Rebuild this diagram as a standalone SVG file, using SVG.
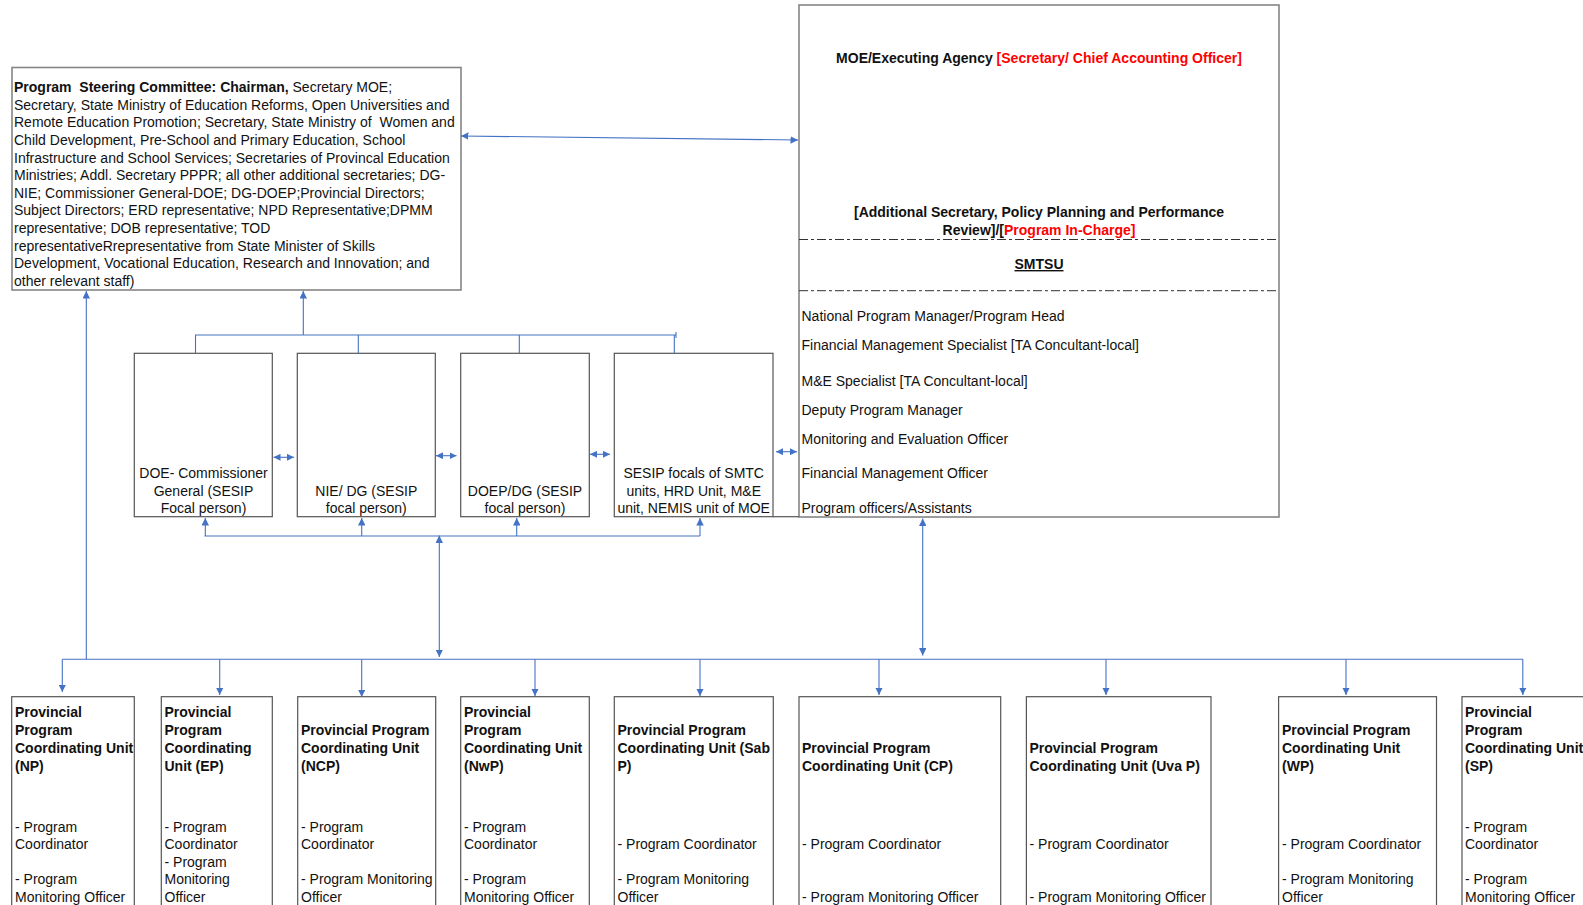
<svg xmlns="http://www.w3.org/2000/svg" width="1583" height="905" viewBox="0 0 1583 905">
<style>
text{font-family:"Liberation Sans",Arial,sans-serif;font-size:14px;fill:#111}
.b{font-weight:bold}
.red{fill:#ff0000}
.c{text-anchor:middle}
.box{fill:#fff;stroke:#555;stroke-width:1.2}
.gbox{fill:#fff;stroke:#858585;stroke-width:1.6}
.con{fill:none;stroke:#4472c4;stroke-width:1.1}
.dd{stroke:#333;stroke-width:1;stroke-dasharray:9,3,3,3}
</style>
<defs>
<marker id="ah" viewBox="0 0 8 8" refX="8" refY="4" markerWidth="7.5" markerHeight="7.5" markerUnits="userSpaceOnUse" orient="auto-start-reverse">
<path d="M0,0 L8,4 L0,8 z" fill="#4472c4"/>
</marker>
<marker id="as" viewBox="0 0 8 8" refX="8" refY="4" markerWidth="7" markerHeight="7" markerUnits="userSpaceOnUse" orient="auto-start-reverse">
<path d="M0,0 L8,4 L0,8 z" fill="#4472c4"/>
</marker>
</defs>
<rect width="1583" height="905" fill="#fff"/>

<g id="psc">
<rect class="gbox" x="12" y="67.5" width="449" height="222.5"/>
<text x="14" y="92"><tspan class="b">Program&#160; Steering Committee: Chairman,</tspan> Secretary MOE;</text>
<text x="14" y="109.6">Secretary, State Ministry of Education Reforms, Open Universities and</text>
<text x="14" y="127.3">Remote Education Promotion; Secretary, State Ministry of&#160; Women and</text>
<text x="14" y="144.9">Child Development, Pre-School and Primary Education, School</text>
<text x="14" y="162.5">Infrastructure and School Services; Secretaries of Provincal Education</text>
<text x="14" y="180.2">Ministries; Addl. Secretary PPPR; all other additional secretaries; DG-</text>
<text x="14" y="197.8">NIE; Commissioner General-DOE; DG-DOEP;Provincial Directors;</text>
<text x="14" y="215.4">Subject Directors; ERD representative; NPD Representative;DPMM</text>
<text x="14" y="233">representative; DOB representative; TOD</text>
<text x="14" y="250.7">representativeRrepresentative from State Minister of Skills</text>
<text x="14" y="268.3">Development, Vocational Education, Research and Innovation; and</text>
<text x="14" y="285.9">other relevant staff)</text>
</g>

<g id="moe">
<rect class="gbox" x="799" y="5" width="480" height="512"/>
<text class="b c" x="1039" y="63">MOE/Executing Agency <tspan class="red">[Secretary/ Chief Accounting Officer]</tspan></text>
<text class="b c" x="1039" y="217.3">[Additional Secretary, Policy Planning and Performance</text>
<text class="b c" x="1039" y="235.3">Review]/[<tspan class="red">Program In-Charge]</tspan></text>
<line class="dd" x1="799" y1="239.5" x2="1279" y2="239.5"/>
<text class="b c" x="1039" y="269" text-decoration="underline">SMTSU</text>
<line class="dd" x1="799" y1="290.7" x2="1279" y2="290.7"/>
<text x="801.5" y="320.7">National Program Manager/Program Head</text>
<text x="801.5" y="350">Financial Management Specialist [TA Concultant-local]</text>
<text x="801.5" y="385.7">M&amp;E Specialist [TA Concultant-local]</text>
<text x="801.5" y="415">Deputy Program Manager</text>
<text x="801.5" y="444">Monitoring and Evaluation Officer</text>
<text x="801.5" y="478.3">Financial Management Officer</text>
<text x="801.5" y="512.7">Program officers/Assistants</text>
</g>

<g id="doe">
<rect class="box" x="134.3" y="353.3" width="138" height="163.4"/>
<text class="c" x="203.5" y="477.5">DOE- Commissioner</text>
<text class="c" x="203.5" y="495.5">General (SESIP</text>
<text class="c" x="203.5" y="513.3">Focal person)</text>
</g>
<g id="nie">
<rect class="box" x="297.3" y="353.3" width="138" height="163.4"/>
<text class="c" x="366.3" y="495.5">NIE/ DG (SESIP</text>
<text class="c" x="366.3" y="513.3">focal person)</text>
</g>
<g id="doep">
<rect class="box" x="460.7" y="353.3" width="128.6" height="163.4"/>
<text class="c" x="525" y="495.5">DOEP/DG (SESIP</text>
<text class="c" x="525" y="513.3">focal person)</text>
</g>
<g id="sesip">
<rect class="box" x="614.3" y="353.3" width="158.7" height="163.4"/>
<text class="c" x="693.7" y="477.5">SESIP focals of SMTC</text>
<text class="c" x="693.7" y="495.5">units, HRD Unit, M&amp;E</text>
<text class="c" x="693.7" y="513.3">unit, NEMIS unit of MOE</text>
</g>
<line x1="773" y1="516.7" x2="799" y2="516.7" stroke="#555" stroke-width="1.2"/>

<g id="ppcu-np">
<rect class="box" x="11.7" y="696.7" width="122.6" height="220"/>
<text class="b" x="15" y="717">Provincial</text>
<text class="b" x="15" y="735">Program</text>
<text class="b" x="15" y="753">Coordinating Unit</text>
<text class="b" x="15" y="771">(NP)</text>
<text x="15" y="832">- Program</text>
<text x="15" y="849">Coordinator</text>
<text x="15" y="884">- Program</text>
<text x="15" y="901.5">Monitoring Officer</text>
</g>
<g id="ppcu-ep">
<rect class="box" x="161.3" y="696.7" width="111" height="220"/>
<text class="b" x="164.5" y="717">Provincial</text>
<text class="b" x="164.5" y="735">Program</text>
<text class="b" x="164.5" y="753">Coordinating</text>
<text class="b" x="164.5" y="771">Unit (EP)</text>
<text x="164.5" y="832">- Program</text>
<text x="164.5" y="849">Coordinator</text>
<text x="164.5" y="866.5">- Program</text>
<text x="164.5" y="884">Monitoring</text>
<text x="164.5" y="901.5">Officer</text>
</g>
<g id="ppcu-ncp">
<rect class="box" x="297.7" y="696.7" width="138" height="220"/>
<text class="b" x="301" y="735">Provincial Program</text>
<text class="b" x="301" y="753">Coordinating Unit</text>
<text class="b" x="301" y="771">(NCP)</text>
<text x="301" y="832">- Program</text>
<text x="301" y="849">Coordinator</text>
<text x="301" y="884">- Program Monitoring</text>
<text x="301" y="901.5">Officer</text>
</g>
<g id="ppcu-nwp">
<rect class="box" x="460.7" y="696.7" width="128.6" height="220"/>
<text class="b" x="464" y="717">Provincial</text>
<text class="b" x="464" y="735">Program</text>
<text class="b" x="464" y="753">Coordinating Unit</text>
<text class="b" x="464" y="771">(NwP)</text>
<text x="464" y="832">- Program</text>
<text x="464" y="849">Coordinator</text>
<text x="464" y="884">- Program</text>
<text x="464" y="901.5">Monitoring Officer</text>
</g>
<g id="ppcu-sabp">
<rect class="box" x="614.3" y="696.7" width="159" height="220"/>
<text class="b" x="617.5" y="735">Provincial Program</text>
<text class="b" x="617.5" y="753">Coordinating Unit (Sab</text>
<text class="b" x="617.5" y="771">P)</text>
<text x="617.5" y="849">- Program Coordinator</text>
<text x="617.5" y="884">- Program Monitoring</text>
<text x="617.5" y="901.5">Officer</text>
</g>
<g id="ppcu-cp">
<rect class="box" x="799" y="696.7" width="201.7" height="220"/>
<text class="b" x="802" y="753">Provincial Program</text>
<text class="b" x="802" y="771">Coordinating Unit (CP)</text>
<text x="802" y="849">- Program Coordinator</text>
<text x="802" y="901.5">- Program Monitoring Officer</text>
</g>
<g id="ppcu-uvap">
<rect class="box" x="1026.4" y="696.7" width="184.6" height="220"/>
<text class="b" x="1029.5" y="753">Provincial Program</text>
<text class="b" x="1029.5" y="771">Coordinating Unit (Uva P)</text>
<text x="1029.5" y="849">- Program Coordinator</text>
<text x="1029.5" y="901.5">- Program Monitoring Officer</text>
</g>
<g id="ppcu-wp">
<rect class="box" x="1278.6" y="696.7" width="157.9" height="220"/>
<text class="b" x="1282" y="735">Provincial Program</text>
<text class="b" x="1282" y="753">Coordinating Unit</text>
<text class="b" x="1282" y="771">(WP)</text>
<text x="1282" y="849">- Program Coordinator</text>
<text x="1282" y="884">- Program Monitoring</text>
<text x="1282" y="901.5">Officer</text>
</g>
<g id="ppcu-sp">
<rect class="box" x="1462" y="696.7" width="140" height="220"/>
<text class="b" x="1465" y="717">Provincial</text>
<text class="b" x="1465" y="735">Program</text>
<text class="b" x="1465" y="753">Coordinating Unit</text>
<text class="b" x="1465" y="771">(SP)</text>
<text x="1465" y="832">- Program</text>
<text x="1465" y="849">Coordinator</text>
<text x="1465" y="884">- Program</text>
<text x="1465" y="901.5">Monitoring Officer</text>
</g>

<g id="connectors">
<line class="con" x1="461" y1="136" x2="798" y2="140" marker-start="url(#ah)" marker-end="url(#ah)"/>
<line class="con" x1="303.3" y1="335" x2="303.3" y2="291" marker-end="url(#ah)"/>
<path class="con" d="M195.5,353.3 V335 H676 M358.3,335 V353.3 M519.3,335 V353.3 M674.3,335 V353.3 M676,332 V338"/>
<line class="con" x1="273.5" y1="457.3" x2="294" y2="457.3" marker-start="url(#as)" marker-end="url(#as)"/>
<line class="con" x1="436" y1="455.7" x2="456.5" y2="455.7" marker-start="url(#as)" marker-end="url(#as)"/>
<line class="con" x1="590" y1="454.3" x2="610" y2="454.3" marker-start="url(#as)" marker-end="url(#as)"/>
<line class="con" x1="776" y1="451.7" x2="797" y2="451.7" marker-start="url(#as)" marker-end="url(#as)"/>
<path class="con" d="M204.5,536 H700"/>
<line class="con" x1="205.3" y1="536" x2="205.3" y2="518" marker-end="url(#ah)"/>
<line class="con" x1="361.7" y1="536" x2="361.7" y2="518" marker-end="url(#ah)"/>
<line class="con" x1="516.7" y1="536" x2="516.7" y2="518" marker-end="url(#ah)"/>
<line class="con" x1="700" y1="536" x2="700" y2="518" marker-end="url(#ah)"/>
<line class="con" x1="439.3" y1="535.5" x2="439.3" y2="657" marker-start="url(#ah)" marker-end="url(#ah)"/>
<line class="con" x1="922.7" y1="518.5" x2="922.7" y2="655.5" marker-start="url(#ah)" marker-end="url(#ah)"/>
<path class="con" d="M62.3,659.3 H1523"/>
<line class="con" x1="86.3" y1="659.3" x2="86.3" y2="291" marker-end="url(#ah)"/>
<line class="con" x1="62.3" y1="659.3" x2="62.3" y2="692" marker-end="url(#ah)"/>
<line class="con" x1="219.7" y1="659.3" x2="219.7" y2="695" marker-end="url(#ah)"/>
<line class="con" x1="361.7" y1="659.3" x2="361.7" y2="697" marker-end="url(#ah)"/>
<line class="con" x1="535" y1="659.3" x2="535" y2="696" marker-end="url(#ah)"/>
<line class="con" x1="700" y1="659.3" x2="700" y2="696" marker-end="url(#ah)"/>
<line class="con" x1="879" y1="659.3" x2="879" y2="695" marker-end="url(#ah)"/>
<line class="con" x1="1106" y1="659.3" x2="1106" y2="695" marker-end="url(#ah)"/>
<line class="con" x1="1346" y1="659.3" x2="1346" y2="695" marker-end="url(#ah)"/>
<line class="con" x1="1522.8" y1="659.3" x2="1522.8" y2="695" marker-end="url(#ah)"/>
</g>
</svg>
